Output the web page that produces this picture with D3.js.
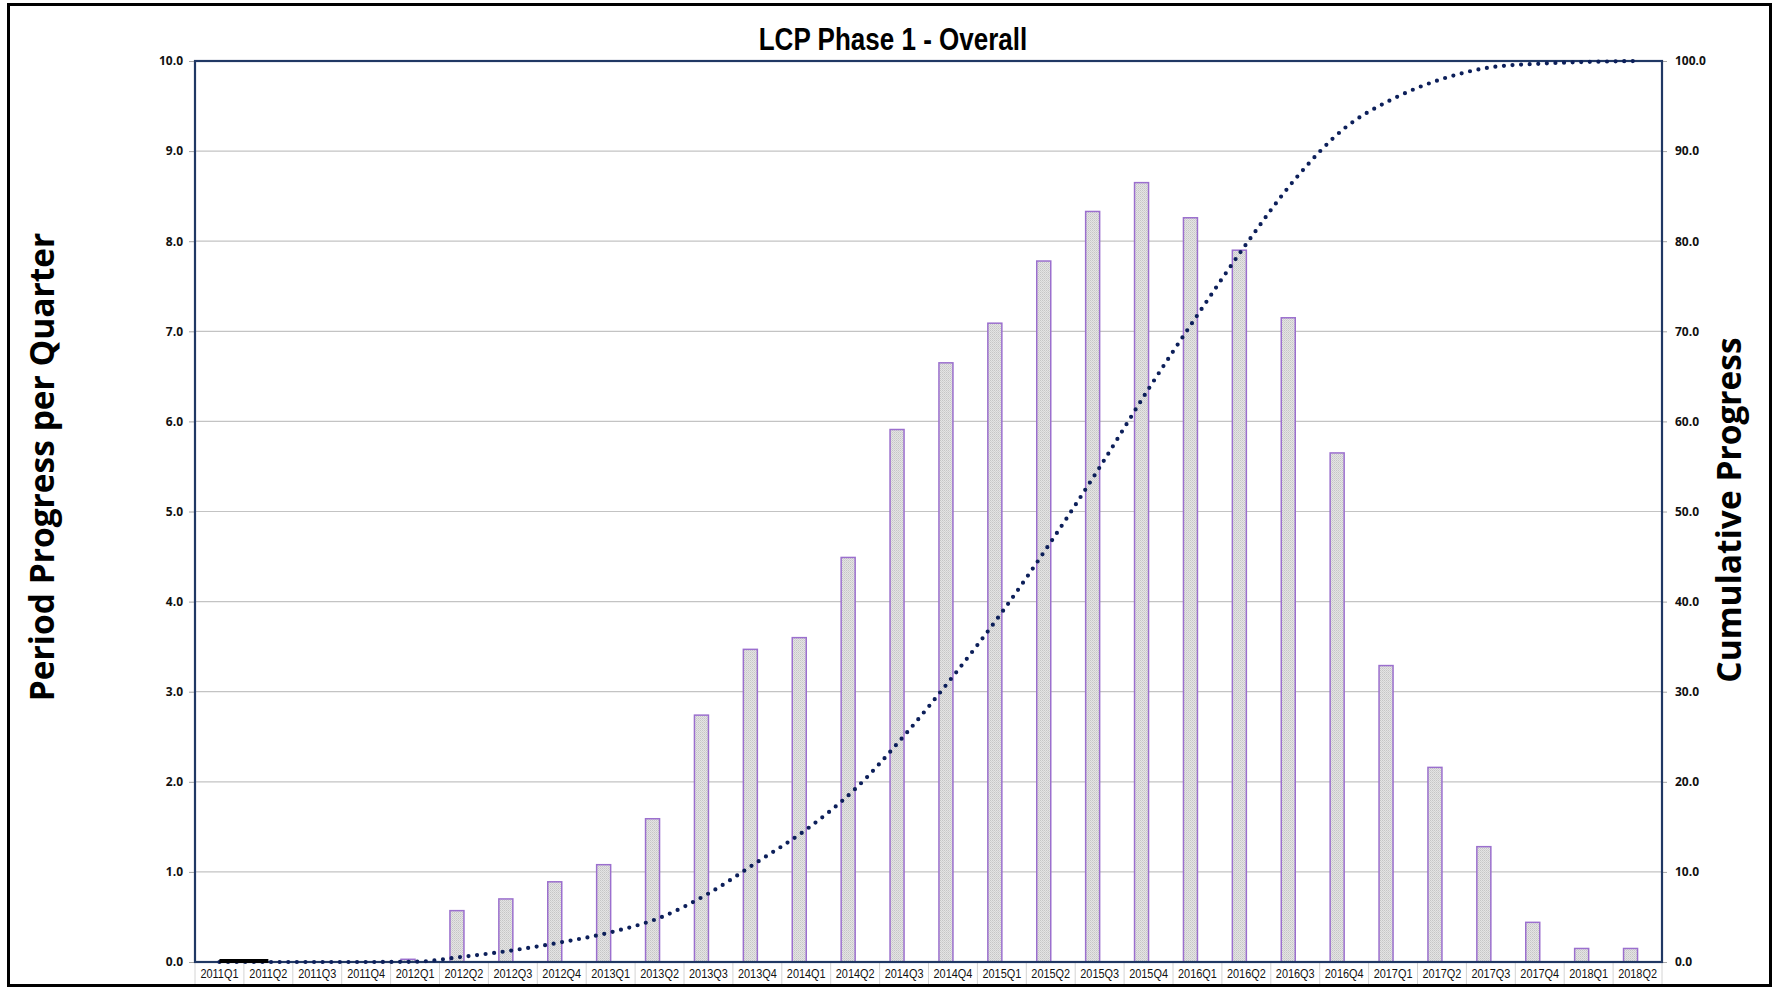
<!DOCTYPE html>
<html>
<head>
<meta charset="utf-8">
<script src="https://cdn.jsdelivr.net/npm/d3@7/dist/d3.min.js"></script>
<style>
  html, body { margin: 0; padding: 0; background: #fff; }
  svg { display: block; }
</style>
</head>
<body>
<svg id="chart" width="1772" height="987"></svg>
<script>
// ---- data ----
const categories = ["2011Q1","2011Q2","2011Q3","2011Q4","2012Q1","2012Q2","2012Q3","2012Q4",
  "2013Q1","2013Q2","2013Q3","2013Q4","2014Q1","2014Q2","2014Q3","2014Q4",
  "2015Q1","2015Q2","2015Q3","2015Q4","2016Q1","2016Q2","2016Q3","2016Q4",
  "2017Q1","2017Q2","2017Q3","2017Q4","2018Q1","2018Q2"];
const periodProgress = [0, 0, 0, 0, 0.03, 0.57, 0.70, 0.89,
  1.08, 1.59, 2.74, 3.47, 3.60, 4.49, 5.91, 6.65,
  7.09, 7.78, 8.33, 8.65, 8.26, 7.90, 7.15, 5.65,
  3.29, 2.16, 1.28, 0.44, 0.15, 0.15];
const cumulativeProgress = [0, 0, 0, 0, 0.03, 0.6, 1.3, 2.2,
  3.3, 4.9, 7.6, 11.1, 14.7, 19.2, 25.1, 31.7,
  38.8, 46.6, 54.9, 63.6, 71.8, 79.7, 86.9, 92.5,
  95.8, 98.0, 99.3, 99.7, 99.9, 100.0];
const actualCategories = ["2011Q1","2011Q2"];
const actualProgress = [0, 0];
const leftTicks = [0,1,2,3,4,5,6,7,8,9,10];
const rightTicks = [0,10,20,30,40,50,60,70,80,90,100];
const titleText = "LCP Phase 1 - Overall";
const leftTitle = "Period Progress per Quarter";
const rightTitle = "Cumulative Progress";

// ---- layout ----
const W = 1772, H = 987;
const plot = { left: 195, right: 1662, top: 61, bottom: 962 };
const navy = "#203864";
const svg = d3.select("#chart");

const x = d3.scaleBand().domain(categories).range([plot.left, plot.right]).padding(0);
const yL = d3.scaleLinear().domain([0, 10]).range([plot.bottom, plot.top]);
const yR = d3.scaleLinear().domain([0, 100]).range([plot.bottom, plot.top]);

// pattern for bar fill
const defs = svg.append("defs");
const pat = defs.append("pattern").attr("id", "dots").attr("width", 2).attr("height", 2)
  .attr("patternUnits", "userSpaceOnUse");
pat.append("rect").attr("width", 2).attr("height", 2).attr("fill", "#e4e4e4");
pat.append("rect").attr("width", 1).attr("height", 1).attr("fill", "#c6c6c6");
pat.append("rect").attr("x", 1).attr("y", 1).attr("width", 1).attr("height", 1).attr("fill", "#d2d2d2");

// outer frame
svg.append("rect").attr("x", 8.5).attr("y", 4.5).attr("width", W - 10).attr("height", H - 6)
  .attr("fill", "#fff").attr("stroke", "#000").attr("stroke-width", 3);

// grid lines
svg.append("g").selectAll("line").data(leftTicks.filter(d => d > 0 && d < 10)).join("line")
  .attr("x1", plot.left).attr("x2", plot.right)
  .attr("y1", d => yL(d)).attr("y2", d => yL(d))
  .attr("stroke", "#c3c3c3").attr("stroke-width", 1.2);

// left axis
const axL = svg.append("g").attr("transform", `translate(${plot.left},0)`)
  .call(d3.axisLeft(yL).tickValues(leftTicks).tickFormat(d3.format(".1f")).tickSize(6).tickPadding(6));
axL.select(".domain").remove();
axL.selectAll(".tick line").attr("stroke", "#a6a6a6");
axL.selectAll(".tick text").attr("font-family", "'Open Sans', sans-serif").attr("font-weight", 700)
  .attr("font-size", 12).attr("fill", "#111");

// right axis
const axR = svg.append("g").attr("transform", `translate(${plot.right},0)`)
  .call(d3.axisRight(yR).tickValues(rightTicks).tickFormat(d3.format(".1f")).tickSize(5).tickPadding(8));
axR.select(".domain").remove();
axR.selectAll(".tick line").attr("stroke", "#a6a6a6");
axR.selectAll(".tick text").attr("font-family", "'Open Sans', sans-serif").attr("font-weight", 700)
  .attr("font-size", 12).attr("fill", "#111");

// category axis (cells)
const axB = svg.append("g").attr("transform", `translate(0,${plot.bottom})`)
  .call(d3.axisBottom(x).tickSize(0).tickPadding(7));
axB.select(".domain").remove();
axB.selectAll(".tick text").attr("font-family", "'Liberation Sans', Arial, sans-serif")
  .attr("font-size", 13).attr("fill", "#111")
  .attr("transform", "scale(0.84,1)");
svg.append("g").selectAll("line").data(categories.concat(["__end"])).join("line")
  .attr("x1", (d, i) => i < categories.length ? x(d) : plot.right)
  .attr("x2", (d, i) => i < categories.length ? x(d) : plot.right)
  .attr("y1", plot.bottom).attr("y2", H - 3)
  .attr("stroke", "#d4d4d4").attr("stroke-width", 1);

// bars
const barW = 14;
const barOffset = -7;
svg.append("g").selectAll("rect").data(categories.map((c, i) => ({ c, v: periodProgress[i] })).filter(d => d.v > 0))
  .join("rect")
  .attr("x", d => x(d.c) + x.bandwidth() / 2 + barOffset - barW / 2)
  .attr("y", d => yL(d.v))
  .attr("width", barW)
  .attr("height", d => yL(0) - yL(d.v))
  .attr("fill", "url(#dots)")
  .attr("stroke", "#9b6fce").attr("stroke-width", 1.5);

// plot border
svg.append("rect").attr("x", plot.left).attr("y", plot.top)
  .attr("width", plot.right - plot.left).attr("height", plot.bottom - plot.top)
  .attr("fill", "none").attr("stroke", navy).attr("stroke-width", 2.2);

// cumulative dotted line
const line = d3.line()
  .x(d => x(d.c) + x.bandwidth() / 2)
  .y(d => yR(d.v))
  .curve(d3.curveMonotoneX);
svg.append("path")
  .datum(categories.map((c, i) => ({ c, v: cumulativeProgress[i] })))
  .attr("d", line)
  .attr("fill", "none").attr("stroke", "#0c1f5a").attr("stroke-width", 4.2)
  .attr("stroke-linecap", "round").attr("stroke-dasharray", "0 8.6");

// actual (black) segment
svg.append("path")
  .datum(actualCategories.map((c, i) => ({ c, v: actualProgress[i] })))
  .attr("d", d3.line().x(d => x(d.c) + x.bandwidth() / 2).y(d => yR(d.v) - 1))
  .attr("fill", "none").attr("stroke", "#000").attr("stroke-width", 4);

// title
svg.append("text").attr("transform", "translate(893,50) scale(0.84,1)").attr("text-anchor", "middle")
  .attr("font-family", "'Liberation Sans', Arial, sans-serif").attr("font-weight", 700)
  .attr("font-size", 31).attr("fill", "#000").text(titleText);

// axis titles
svg.append("text").attr("transform", "translate(54,467) rotate(-90)").attr("text-anchor", "middle")
  .attr("font-family", "'Open Sans', sans-serif").attr("font-weight", 700)
  .attr("font-size", 33.5).attr("fill", "#000").text(leftTitle);
svg.append("text").attr("transform", "translate(1741,510) rotate(-90)").attr("text-anchor", "middle")
  .attr("font-family", "'Open Sans', sans-serif").attr("font-weight", 700)
  .attr("font-size", 33.5).attr("fill", "#000").text(rightTitle);
</script>
</body>
</html>
